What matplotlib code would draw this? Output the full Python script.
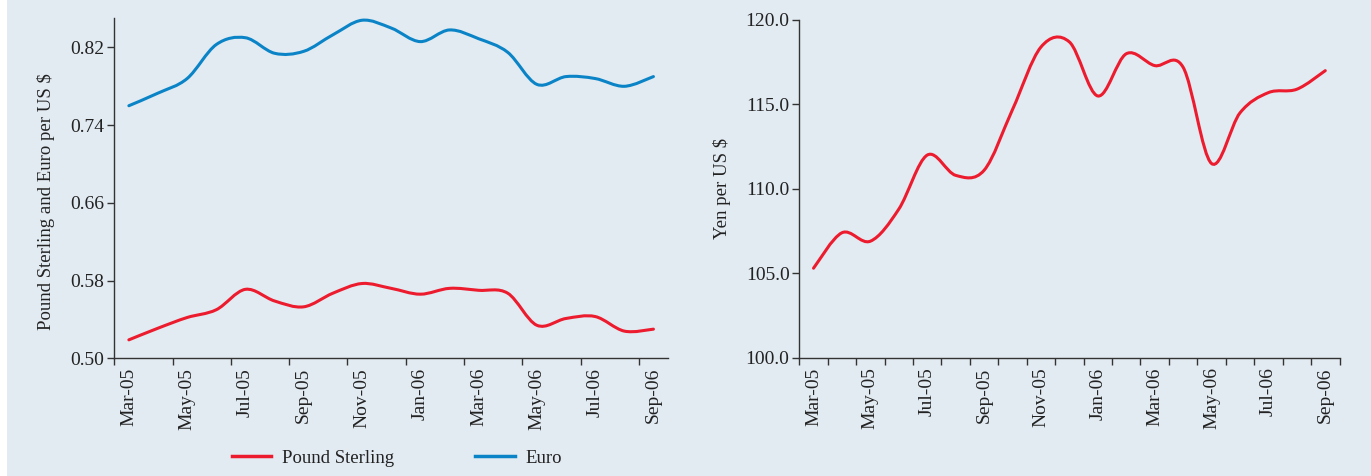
import numpy as np
import matplotlib.pyplot as plt
from matplotlib.path import Path
from matplotlib.patches import PathPatch, Rectangle
from matplotlib.lines import Line2D

# ─────────────────────────────────────────────────────────────
# Data (monthly averages)
# ─────────────────────────────────────────────────────────────
months = ["Mar-05", "Apr-05", "May-05", "Jun-05", "Jul-05", "Aug-05", "Sep-05",
          "Oct-05", "Nov-05", "Dec-05", "Jan-06", "Feb-06", "Mar-06", "Apr-06",
          "May-06", "Jun-06", "Jul-06", "Aug-06", "Sep-06"]

pound = [0.519, 0.531, 0.542, 0.550, 0.571, 0.559, 0.553, 0.567, 0.577, 0.572,
         0.566, 0.572, 0.570, 0.567, 0.534, 0.541, 0.543, 0.528, 0.530]

euro = [0.760, 0.773, 0.788, 0.823, 0.830, 0.814, 0.816, 0.833, 0.848, 0.840,
        0.826, 0.838, 0.829, 0.815, 0.782, 0.790, 0.788, 0.780, 0.790]

yen = [105.3, 107.4, 106.9, 108.8, 112.0, 110.8, 111.1, 114.7, 118.4, 118.7,
       115.5, 118.0, 117.3, 117.2, 111.5, 114.5, 115.7, 115.9, 117.0]

left_yticks = [0.50, 0.58, 0.66, 0.74, 0.82]
right_yticks = [100.0, 105.0, 110.0, 115.0, 120.0]

RED = "#EC1C2E"
BLUE = "#0A84C6"
BG = "#E2EAF2"
AXC = "#333333"
TXT = "#222222"

plt.rcParams["font.family"] = ["Liberation Serif", "DejaVu Serif"]
plt.rcParams["font.size"] = 13.5


def smooth_path(x, y):
    """Bezier đi qua các điểm, kiểu 'smoothed line' của Excel."""
    pts = np.column_stack([x, y]).astype(float)
    n = len(pts)
    verts, codes = [pts[0]], [Path.MOVETO]
    for i in range(n - 1):
        p0 = pts[i - 1] if i > 0 else pts[i]
        p1, p2 = pts[i], pts[i + 1]
        p3 = pts[i + 2] if i + 2 < n else pts[i + 1]
        verts += [p1 + (p2 - p0) / 6, p2 - (p3 - p1) / 6, p2]
        codes += [Path.CURVE4] * 3
    return Path(verts, codes)


def style_axes(ax):
    ax.set_facecolor(BG)
    for s in ("top", "right"):
        ax.spines[s].set_visible(False)
    for s in ("left", "bottom"):
        ax.spines[s].set_color(AXC)
        ax.spines[s].set_linewidth(1.0)
    ax.tick_params(which="major", direction="out", length=5, width=1.0,
                   color=AXC, labelcolor=TXT, labelsize=14, pad=2)
    ax.tick_params(axis="x", which="minor", length=0, pad=7,
                   labelrotation=90, labelcolor=TXT, labelsize=14)


x = np.arange(len(months)) + 0.5
label_pos = x[::2]
label_txt = months[::2]

fig = plt.figure(figsize=(13.71, 4.76), dpi=100)
fig.patch.set_facecolor(BG)
fig.patches.append(Rectangle((0, 0), 7 / 1371, 1, transform=fig.transFigure,
                             facecolor="white", edgecolor="none", zorder=-1))

# ─────────────────────────────────────────────────────────────
# Left: Pound Sterling & Euro
# ─────────────────────────────────────────────────────────────
ax1 = fig.add_axes([114.3 / 1371, 1 - 358.3 / 476, 553.7 / 1371, 340 / 476])
style_axes(ax1)
ax1.add_patch(PathPatch(smooth_path(x, pound), fill=False, edgecolor=RED,
                        linewidth=2.2, capstyle="round"))
ax1.add_patch(PathPatch(smooth_path(x, euro), fill=False, edgecolor=BLUE,
                        linewidth=2.2, capstyle="round"))
ax1.set_xlim(0, len(months))
ax1.set_ylim(0.50, 0.85)
ax1.set_yticks(left_yticks)
ax1.set_yticklabels([f"{v:.2f}" for v in left_yticks])
ax1.set_xticks(np.arange(0, len(months), 2))
ax1.set_xticklabels([])
ax1.set_xticks(label_pos, minor=True)
ax1.set_xticklabels(label_txt, minor=True)
ax1.set_ylabel("Pound Sterling and Euro per US $", fontsize=13.5, color=TXT)
ax1.yaxis.set_label_coords(-0.108, 0.46)

# ─────────────────────────────────────────────────────────────
# Right: Yen
# ─────────────────────────────────────────────────────────────
ax2 = fig.add_axes([799.3 / 1371, 1 - 357.7 / 476, 540.2 / 1371, 337.7 / 476])
style_axes(ax2)
ax2.add_patch(PathPatch(smooth_path(x, yen), fill=False, edgecolor=RED,
                        linewidth=2.2, capstyle="round"))
ax2.set_xlim(0, len(months))
ax2.set_ylim(100, 120)
ax2.set_yticks(right_yticks)
ax2.set_yticklabels([f"{v:.1f}" for v in right_yticks])
ax2.set_xticks(np.arange(0, len(months) + 1))
ax2.set_xticklabels([])
ax2.set_xticks(label_pos, minor=True)
ax2.set_xticklabels(label_txt, minor=True)
ax2.set_ylabel("Yen per US $", fontsize=13.5, color=TXT)
ax2.yaxis.set_label_coords(-0.126, 0.5)

# Legend
handles = [Line2D([], [], color=RED, linewidth=2.5),
           Line2D([], [], color=BLUE, linewidth=2.5)]
fig.legend(handles, ["Pound Sterling", "Euro"], loc="center",
           bbox_to_anchor=(397 / 1371, 1 - 458 / 476), ncol=2, frameon=False,
           fontsize=13.5, handlelength=2.1, columnspacing=4.3,
           handletextpad=0.6, labelcolor=TXT)

plt.savefig("out.png", dpi=100, facecolor=fig.get_facecolor())
